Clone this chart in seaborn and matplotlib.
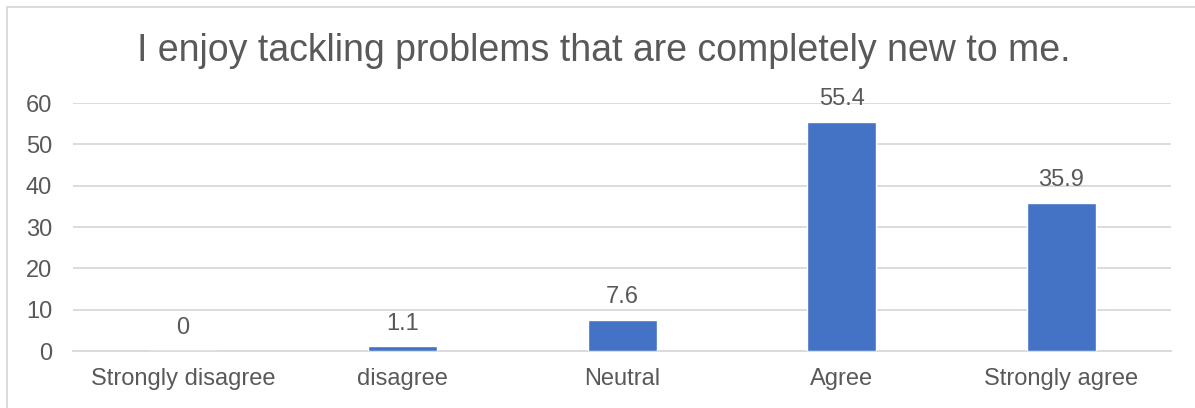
import matplotlib
matplotlib.use("Agg")
import matplotlib.pyplot as plt
import seaborn as sns
import pandas as pd
from matplotlib.patches import Rectangle

categories = ["Strongly disagree", "disagree", "Neutral", "Agree", "Strongly agree"]
values = [0, 1.1, 7.6, 55.4, 35.9]
value_labels = ["0", "1.1", "7.6", "55.4", "35.9"]
y_ticks = [0, 10, 20, 30, 40, 50, 60]
title = "I enjoy tackling problems that are completely new to me."

sns.set_theme(style="white")
plt.rcParams["font.family"] = ["Liberation Sans", "DejaVu Sans"]

text_color = "#595959"
bar_color = "#4472C4"
grid_color = "#D9D9D9"

df = pd.DataFrame({"category": categories, "value": values})

fig = plt.figure(figsize=(11.95, 4.08), dpi=100)
ax = fig.add_axes([0.0611, 0.1397, 0.9189, 0.6078])

sns.barplot(data=df, x="category", y="value", color=bar_color,
            width=0.314, saturation=1, ax=ax, zorder=3)

ax.set_ylim(0, 60)
ax.set_xlim(-0.5, len(categories) - 0.5)
ax.set_yticks(y_ticks)
ax.yaxis.grid(True, color=grid_color, linewidth=1.3, zorder=0)
ax.set_axisbelow(True)
for side in ["top", "right", "left"]:
    ax.spines[side].set_visible(False)
ax.spines["bottom"].set_color(grid_color)
ax.spines["bottom"].set_linewidth(1.3)
ax.tick_params(axis="both", length=0, labelsize=17, colors=text_color)
ax.tick_params(axis="x", pad=12)
ax.tick_params(axis="y", pad=15)
ax.set_xlabel("")
ax.set_ylabel("")

for i, (v, lab) in enumerate(zip(values, value_labels)):
    ax.annotate(lab, (i, v), xytext=(0, 12), textcoords="offset points",
                ha="center", va="baseline", fontsize=17, color=text_color)

fig.text(0.505, 0.875, title, ha="center", va="center",
         fontsize=27, color=text_color)

# chart-area outline
fig.patches.append(Rectangle((7 / 1195, -0.1), 1.2, 1 - 7 / 408 + 0.1,
                             transform=fig.transFigure, fill=False,
                             edgecolor="#D9D9D9", linewidth=1.3))

fig.savefig("out.png", dpi=100)
